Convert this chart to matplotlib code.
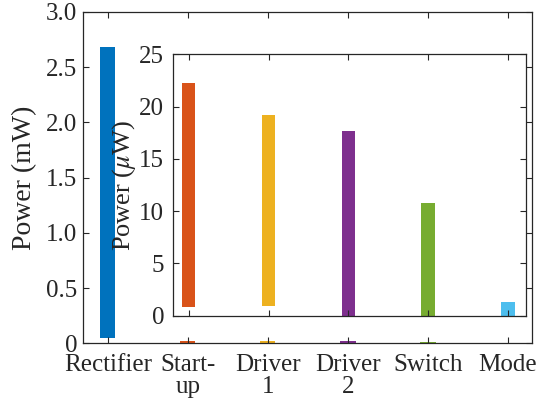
import numpy as np
import matplotlib
matplotlib.use('Agg')
import matplotlib.pyplot as plt

plt.rcParams['font.family'] = ['Liberation Serif', 'DejaVu Serif']
plt.rcParams['mathtext.fontset'] = 'stix'

# данные
categories = ['Rectifier', 'Start-\nup', 'Driver\n1', 'Driver\n2', 'Switch', 'Mode']
power_mw = [2.68, 0.0223, 0.0192, 0.0176, 0.0108, 0.0013]
base_mw = [0.045, 0, 0, 0, 0, 0]
inset_power_uw = [22.25, 19.2, 17.65, 10.8, 1.28]
inset_base_uw = [0.85, 0.9, 0, 0, 0]

colors = ['#0072BD', '#D95319', '#EDB120', '#7E2F8E', '#77AC30', '#4DBEEE']
gray = '#262626'

fig = plt.figure(figsize=(5.47, 4.05), dpi=100)
ax = fig.add_axes([0.1517, 0.1523, 0.8209, 0.8181])

x = np.arange(1, len(categories) + 1)
heights = [p - b for p, b in zip(power_mw, base_mw)]
ax.bar(x, heights, bottom=base_mw, width=0.19, color=colors)
ax.set_xlim(0.69, 6.3)
ax.set_ylim(0, 3.0)
ax.set_xticks(x)
ax.set_xticklabels(categories, linespacing=1.0)
ax.set_yticks(np.arange(0, 3.01, 0.5))
ax.set_yticklabels(['0', '0.5', '1.0', '1.5', '2.0', '2.5', '3.0'])
ax.set_ylabel('Power (mW)', fontsize=20, color=gray)
ax.yaxis.set_label_coords(-0.102, 0.5)

# вставка
ins = fig.add_axes([0.3157, 0.2205, 0.6453, 0.6455])
xi = x[1:]
ih = [p - b for p, b in zip(inset_power_uw, inset_base_uw)]
ins.bar(xi, ih, bottom=inset_base_uw, width=0.17, color=colors[1:])
ins.set_xlim(1.8, 6.22)
ins.set_ylim(0, 25)
ins.set_xticks(xi)
ins.set_xticklabels([])
ins.set_yticks(np.arange(0, 26, 5))
ins.set_ylabel(r'Power ($\mu$W)', fontsize=19, color=gray)
ins.yaxis.set_label_coords(-0.098, 0.5)

for a in (ax, ins):
    a.tick_params(direction='in', top=True, right=True, length=4, width=0.8,
                  colors=gray, labelsize=18)
    a.tick_params(axis='x', pad=8)
    for s in a.spines.values():
        s.set_color(gray)
        s.set_linewidth(0.9)

ax.tick_params(axis='y', pad=4)
ins.tick_params(axis='y', pad=6)

fig.savefig('out.png', dpi=100)
